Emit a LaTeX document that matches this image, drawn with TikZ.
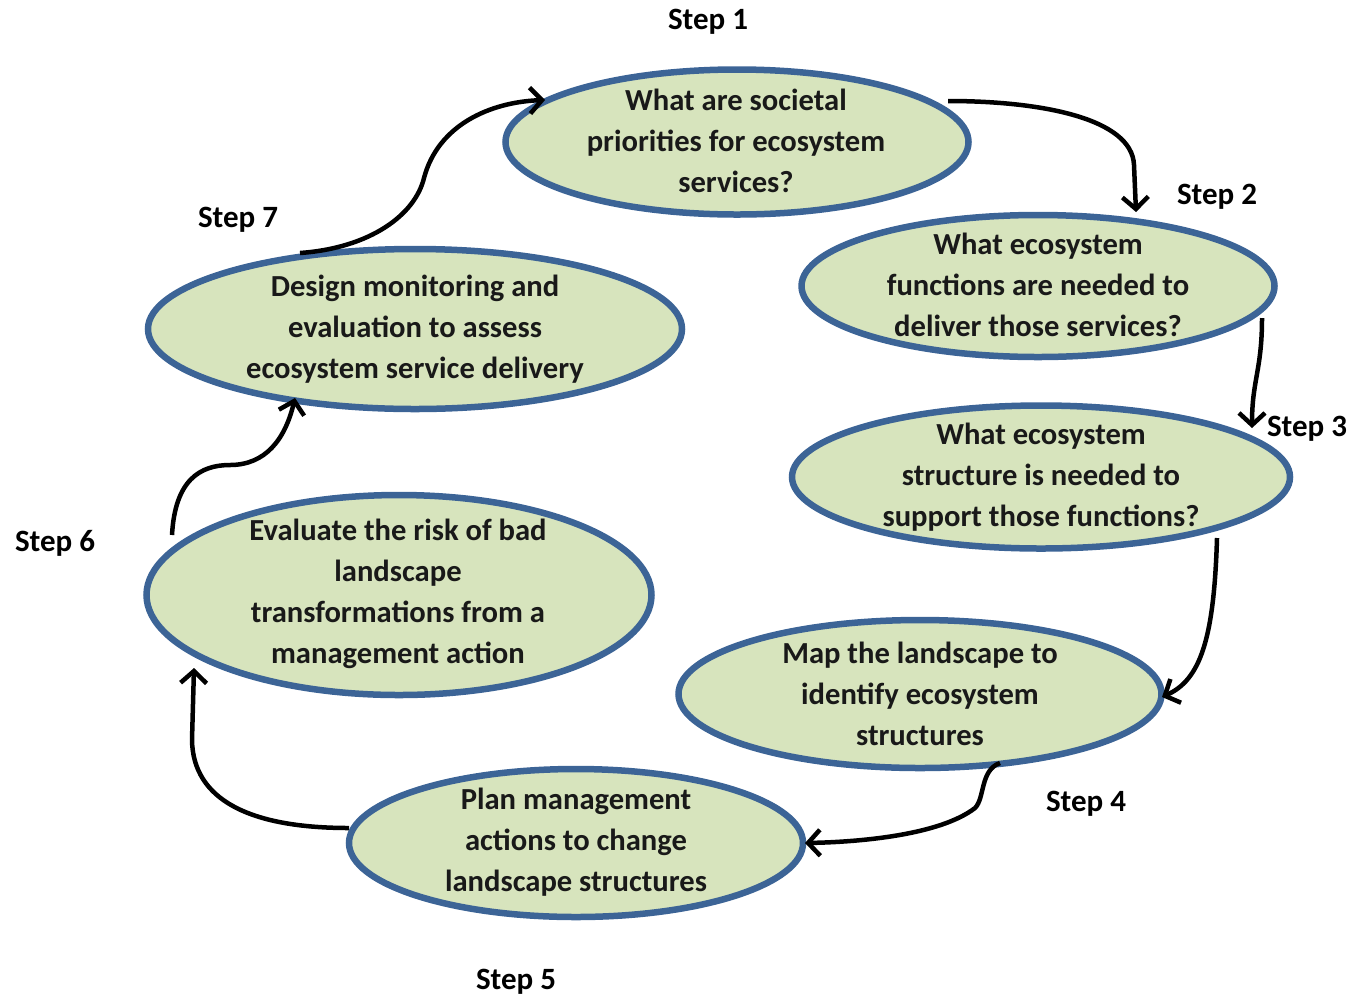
\documentclass[tikz,border=0pt]{standalone}
\usepackage{fontspec}
\setmainfont{Carlito}
\usetikzlibrary{shapes.geometric,arrows.meta}
\definecolor{bubfill}{RGB}{215,228,189}
\definecolor{bubline}{RGB}{60,100,150}
\tikzset{
  bub/.style={ellipse, draw=bubline, fill=bubfill, line width=6.5pt, inner sep=0pt},
  txt/.style={align=center, font=\bfseries\fontsize{30.6}{41}\selectfont, text=black!90, inner sep=0pt},
  steplbl/.style={font=\bfseries\fontsize{31}{36}\selectfont, inner sep=0pt},
  conn/.style={line width=4.5pt, -{Straight Barb[length=12pt,width=26pt,line width=4.5pt]}}
}
\begin{document}
\begin{tikzpicture}[x=1pt,y=-1pt]
\useasboundingbox (0,0) rectangle (1359,997);
% ellipses
\node[bub, minimum width=463pt, minimum height=145pt] (e1) at (737,142) {};
\node[bub, minimum width=473pt, minimum height=142pt] (e2) at (1038,286) {};
\node[bub, minimum width=498pt, minimum height=143pt] (e3) at (1041,477) {};
\node[bub, minimum width=483pt, minimum height=148pt] (e4) at (920,694) {};
\node[bub, minimum width=454pt, minimum height=148pt] (e5) at (576,843) {};
\node[bub, minimum width=505pt, minimum height=200pt] (e6) at (399,595) {};
\node[bub, minimum width=534pt, minimum height=160pt] (e7) at (415,329) {};
% texts
\node[txt] (t1) at (736,141) {What are societal\\priorities for ecosystem\\services?};
\node[txt] (t2) at (1038,285) {What ecosystem\\functions are needed to\\deliver those services?};
\node[txt] (t3) at (1041,477) {What ecosystem\\structure is needed to\\support those functions?};
\node[txt] (t4) at (920,694) {Map the landscape to\\identify ecosystem\\structures};
\node[txt] (t5) at (576,842) {Plan management\\actions to change\\landscape structures};
\node[txt] (t6) at (398,594) {Evaluate the risk of bad\\landscape\\transformations from a\\management action};
\node[txt] (t7) at (415,329) {Design monitoring and\\evaluation to assess\\ecosystem service delivery};
% step labels
\node[steplbl] (s1) at (708,22) {Step 1};
\node[steplbl] (s2) at (1217,197) {Step 2};
\node[steplbl] (s3) at (1307,429) {Step 3};
\node[steplbl] (s4) at (1086,804) {Step 4};
\node[steplbl] (s5) at (516,982) {Step 5};
\node[steplbl] (s6) at (55,543) {Step 6};
\node[steplbl] (s7) at (238,220) {Step 7};
% connector end points
\coordinate (a1s) at (948,101);
\coordinate (a1e) at (1136,212);
\coordinate (a2s) at (1262,318);
\coordinate (a2e) at (1252,428);
\coordinate (a3s) at (1217,538);
\coordinate (a3e) at (1162,697);
\coordinate (a4s) at (1000,763);
\coordinate (a4e) at (805,843);
\coordinate (a5s) at (349,828);
\coordinate (a5e) at (194,668);
\coordinate (a6s) at (172,535);
\coordinate (a6e) at (295,398);
\coordinate (a7s) at (300,253);
\coordinate (a7e) at (545,100);
% connectors
\draw[conn] (a1s) .. controls (1040,101) and (1132,118) .. (1134,165) -- (a1e);
\draw[conn] (a2s) .. controls (1262,370) and (1252,380) .. (a2e);
\draw[conn] (a3s) .. controls (1214,640) and (1200,680) .. (a3e);
\draw[conn] (a4s) .. controls (980,770) and (985,798) .. (975,808) .. controls (940,835) and (860,842) .. (a4e);
\draw[conn] (a5s) .. controls (250,828) and (193,800) .. (192,740) -- (a5e);
\draw[conn] (a6s) .. controls (175,480) and (200,465) .. (230,465) .. controls (265,465) and (285,440) .. (a6e);
\draw[conn] (a7s) .. controls (370,248) and (415,215) .. (424,178) .. controls (438,125) and (490,102) .. (a7e);
\end{tikzpicture}
\end{document}
